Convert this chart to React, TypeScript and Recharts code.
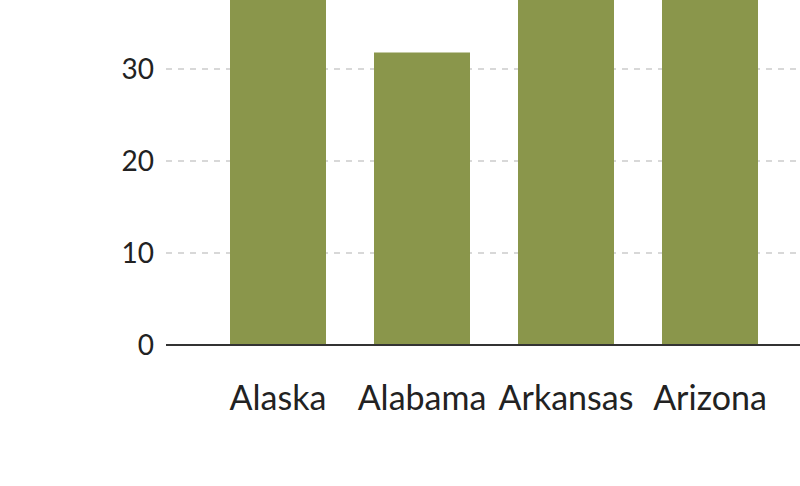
import React from "react";
import { BarChart, Bar, XAxis, YAxis, CartesianGrid } from "recharts";

const states = ["Alaska", "Alabama", "Arkansas", "Arizona"];
const values = [45, 31.8, 44, 42];
const yTicks = [0, 10, 20, 30];
const gridValues = [10, 20, 30];

const data = states.map((s, i) => ({ state: s, value: values[i] }));

const FONT = "Lato, 'Noto Sans', sans-serif";

export default function App() {
  return (
    <div
      style={{
        position: "absolute",
        top: 0,
        left: 0,
        width: 800,
        height: 486,
        overflow: "hidden",
        background: "#fff",
      }}
    >
      <BarChart
        width={800}
        height={486}
        data={data}
        margin={{ top: 0, right: 0, bottom: 0, left: 0 }}
      >
        <CartesianGrid
          vertical={false}
          horizontalValues={gridValues}
          stroke="#cccccc"
          strokeWidth={1.5}
          strokeDasharray="6 6"
        />
        <XAxis
          dataKey="state"
          height={141}
          padding={{ left: 40, right: 18 }}
          tickLine={false}
          tickSize={0}
          tickMargin={41}
          axisLine={{ stroke: "#333333", strokeWidth: 2 }}
          tick={{ fill: "#222222", fontSize: 34, fontFamily: FONT }}
          interval={0}
        />
        <YAxis
          width={166}
          domain={[0, 37.5]}
          allowDataOverflow
          ticks={yTicks}
          tickLine={false}
          axisLine={false}
          tickSize={0}
          tickMargin={12}
          tick={{ fill: "#222222", fontSize: 28, fontFamily: FONT }}
        />
        <Bar dataKey="value" fill="#8A964B" barSize={96} isAnimationActive={false} />
      </BarChart>
    </div>
  );
}
